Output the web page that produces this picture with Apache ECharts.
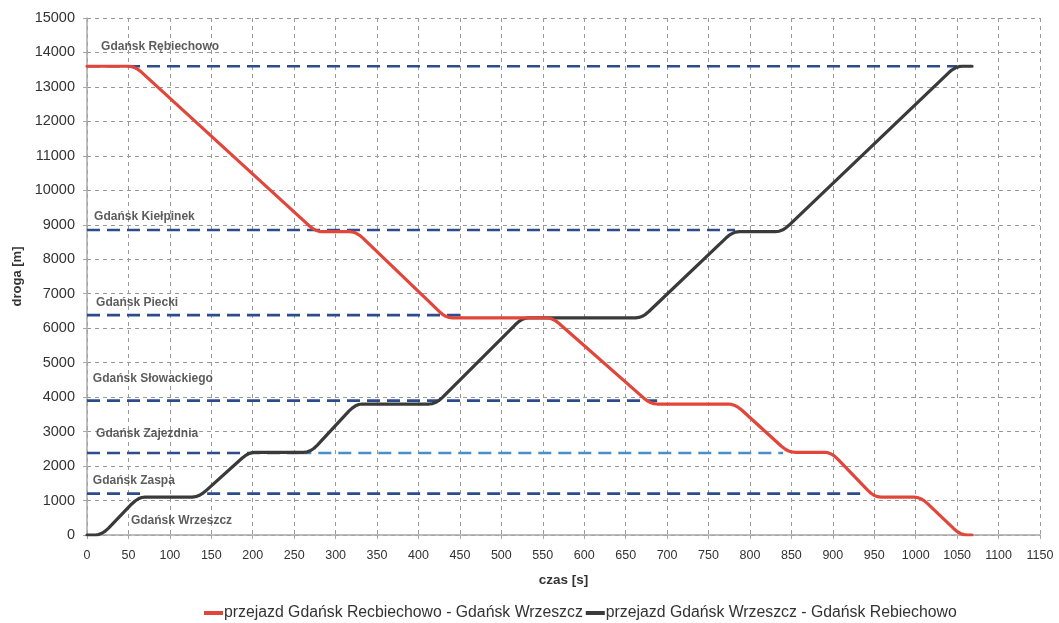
<!DOCTYPE html>
<html>
<head>
<meta charset="utf-8">
<script src="https://cdn.jsdelivr.net/npm/echarts@6/dist/echarts.min.js"></script>
<style>
html,body{margin:0;padding:0;background:#fff;}
#c{width:1059px;height:623px;}
</style>
</head>
<body>
<div id="c"></div>
<script>
// ---- data ----
const seriesNames = ['przejazd Gdańsk Recbiechowo - Gdańsk Wrzeszcz', 'przejazd Gdańsk Wrzeszcz - Gdańsk Rebiechowo'];
const redTime = [0, 50, 54, 58, 62, 66, 268, 272, 276, 280, 284, 317, 321, 325, 329, 333, 425, 429, 433, 437, 441, 554, 558, 562, 566, 570, 672, 676, 680, 684, 688, 774, 778, 782, 786, 790, 838, 842, 846, 850, 854, 890, 894, 898, 902, 906, 942, 946, 950, 954, 958, 998, 1002, 1006, 1010, 1014, 1046, 1050, 1054, 1058, 1062, 1068];
const redDist = [13600, 13600, 13589, 13556, 13500, 13424, 8976, 8899, 8844, 8811, 8800, 8800, 8788, 8754, 8696, 8614, 6486, 6404, 6346, 6312, 6300, 6300, 6289, 6258, 6205, 6130, 3970, 3895, 3842, 3811, 3800, 3800, 3789, 3756, 3701, 3625, 2575, 2499, 2444, 2411, 2400, 2400, 2388, 2350, 2288, 2200, 1300, 1212, 1150, 1112, 1100, 1100, 1089, 1054, 997, 917, 183, 103, 46, 11, 0, 0];
// black: Wrzeszcz -> Rębiechowo
const blackTime = [0, 10, 14, 18, 22, 26, 54, 58, 62, 66, 70, 127, 131, 135, 139, 143, 187, 191, 195, 199, 203, 262, 266, 270, 274, 278, 316, 320, 324, 328, 332, 413, 417, 421, 425, 429, 517, 521, 525, 529, 533, 662, 666, 670, 674, 678, 771, 775, 779, 783, 787, 831, 835, 839, 843, 847, 1040, 1044, 1048, 1052, 1056, 1068];
const blackDist = [0, 0, 12, 50, 112, 200, 900, 987, 1050, 1087, 1100, 1100, 1111, 1143, 1198, 1274, 2226, 2302, 2357, 2389, 2400, 2400, 2413, 2452, 2517, 2607, 3593, 3683, 3748, 3787, 3800, 3800, 3812, 3848, 3909, 3994, 6106, 6191, 6252, 6288, 6300, 6300, 6312, 6346, 6404, 6484, 8616, 8697, 8754, 8789, 8800, 8800, 8812, 8846, 8904, 8984, 13416, 13497, 13554, 13589, 13600, 13600];
// stations
const stationNames = ['Gdańsk Rębiechowo', 'Gdańsk Kiełpinek', 'Gdańsk Piecki', 'Gdańsk Słowackiego', 'Gdańsk Zajezdnia', 'Gdańsk Zaspa', 'Gdańsk Wrzeszcz'];
const stationDist = [13600, 8850, 6380, 3900, 2380, 1200, 0];
// dashed station-line segments: [station index, start time, end time]
const stationSegments = [[0, 0, 1050], [1, 0, 782], [2, 0, 452], [3, 0, 688], [4, 0, 255], [4, 255, 840], [5, 0, 68], [5, 145, 938]];
// station label anchors (time, distance) for the text
const labelTime = [17, 8.5, 11, 7, 11, 7, 53];
const labelDist = [14160, 9230, 6730, 4530, 2930, 1570, 410];
const xTicks = {min: 0, max: 1150, interval: 50};
const yTicks = {min: 0, max: 15000, interval: 1000};

// ---- chart ----
const chart = echarts.init(document.getElementById('c'), null, {renderer: 'canvas'});
const pair = (t, d) => t.map((v, i) => [v, d[i]]);
const dark = '#2d4c8c';
const light = '#4a8fc6';

const series = [];
stationSegments.forEach((s, k) => {
  series.push({
    type: 'line', name: 'st' + k, silent: true, symbol: 'none', z: 2,
    data: [[s[1], stationDist[s[0]]], [s[2], stationDist[s[0]]]],
    lineStyle: {color: (s[0] === 4 && s[1] > 0) ? light : dark, width: 2.6, type: [13, 7]}
  });
});
series.push({
  type: 'line', name: seriesNames[0], symbol: 'none', smooth: false, z: 4,
  data: pair(redTime, redDist), color: '#e2453a',
  lineStyle: {color: '#e2453a', width: 3.2, join: 'round', cap: 'round'}
});
series.push({
  type: 'line', name: seriesNames[1], symbol: 'none', smooth: false, z: 3,
  data: pair(blackTime, blackDist), color: '#3a3a3a',
  lineStyle: {color: '#3a3a3a', width: 3.2, join: 'round', cap: 'round'}
});
series.push({
  type: 'scatter', name: 'labels', silent: true, symbolSize: 0, z: 5,
  data: stationNames.map((n, i) => ({value: [labelTime[i], labelDist[i]], name: n})),
  label: {show: true, position: 'right', distance: 0, formatter: p => p.name,
    fontFamily: 'Liberation Sans, Arial, sans-serif', fontWeight: 'bold', fontSize: 12, color: '#333'}
});

chart.setOption({
  animation: false,
  backgroundColor: '#fff',
  grid: {left: 87, right: 19, top: 18, bottom: 88, containLabel: false},
  legend: {
    data: seriesNames, left: 199, top: 600, itemWidth: 19, itemHeight: 4, icon: 'rect', itemGap: 3,
    textStyle: {fontFamily: 'Liberation Sans, Arial, sans-serif', fontSize: 15.8, color: '#333', padding: [0, 0, 0, -4]}
  },
  xAxis: {
    type: 'value', min: xTicks.min, max: xTicks.max, interval: xTicks.interval,
    name: 'czas [s]', nameLocation: 'middle', nameGap: 38,
    nameTextStyle: {fontFamily: 'Liberation Sans, Arial, sans-serif', fontWeight: 'bold', fontSize: 13.5, color: '#333'},
    axisLine: {show: true, lineStyle: {color: '#a8a8a8', width: 1.5}},
    axisTick: {show: true, length: 4, lineStyle: {color: '#a8a8a8'}},
    axisLabel: {margin: 14, fontFamily: 'Liberation Sans, Arial, sans-serif', fontSize: 12.5, color: '#333', formatter: v => String(v)},
    splitLine: {show: true, lineStyle: {color: '#9a9a9a', type: [4, 4], width: 1}}
  },
  yAxis: {
    type: 'value', min: yTicks.min, max: yTicks.max, interval: yTicks.interval,
    name: 'droga [m]', nameLocation: 'middle', nameGap: 62, nameRotate: 90,
    nameTextStyle: {fontFamily: 'Liberation Sans, Arial, sans-serif', fontWeight: 'bold', fontSize: 13, color: '#333'},
    axisLine: {show: true, lineStyle: {color: '#a8a8a8', width: 1.5}},
    axisTick: {show: true, length: 4, lineStyle: {color: '#a8a8a8'}},
    axisLabel: {margin: 12, fontFamily: 'Liberation Sans, Arial, sans-serif', fontSize: 14.5, color: '#333', formatter: v => String(v)},
    splitLine: {show: true, lineStyle: {color: '#9a9a9a', type: [4, 4], width: 1}}
  },
  series: series
});
</script>
</body>
</html>
